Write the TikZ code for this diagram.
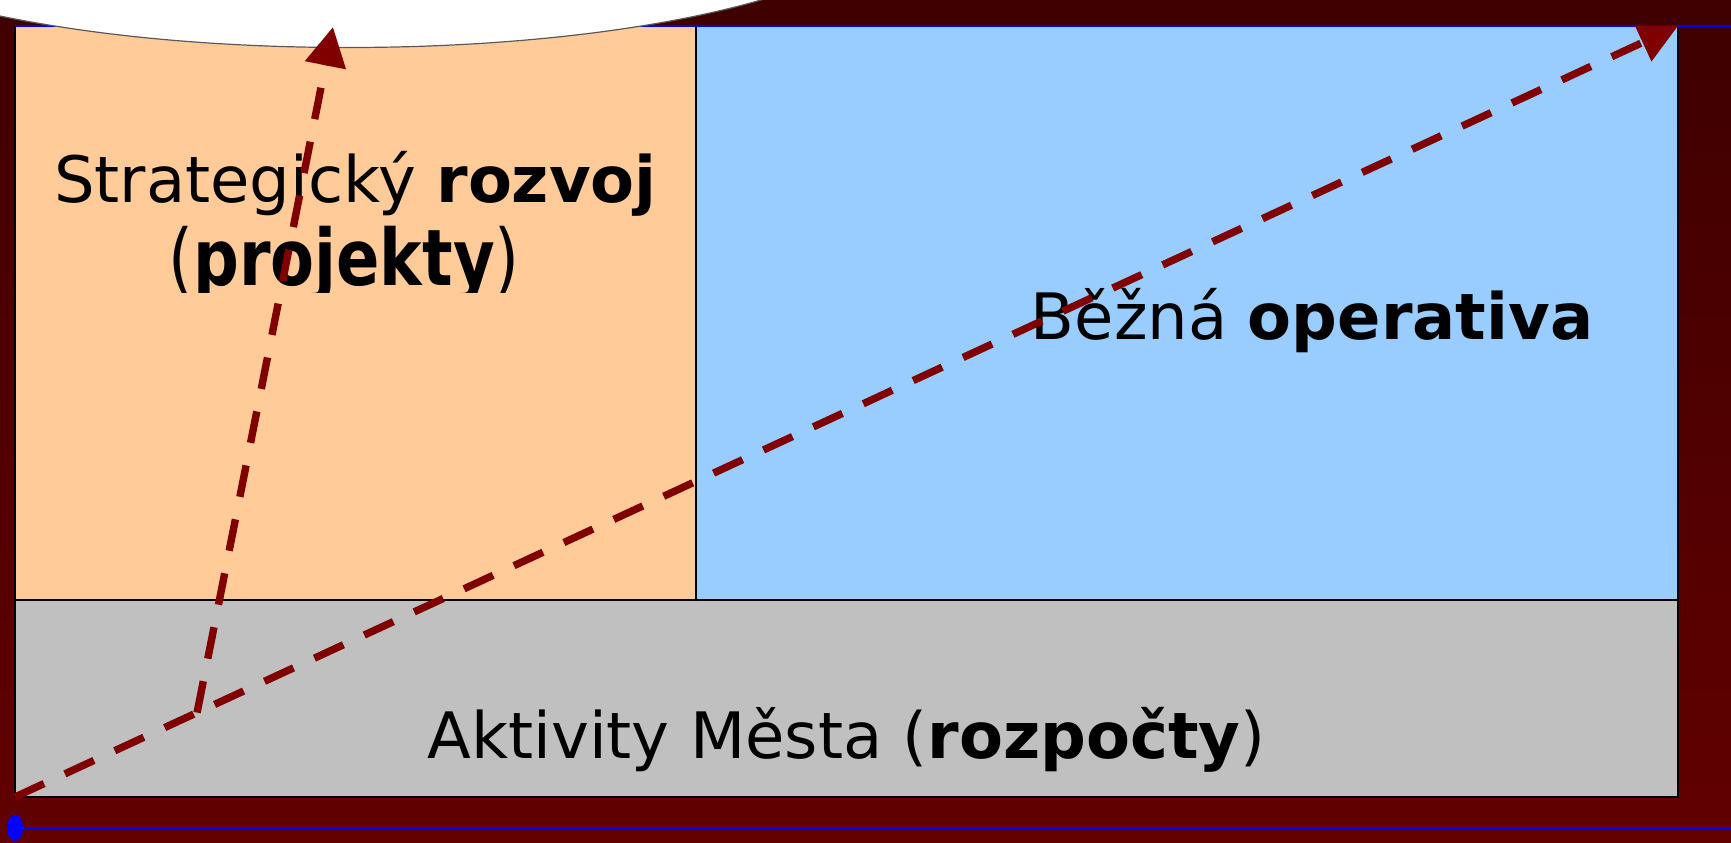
\documentclass[tikz,border=0pt]{standalone}
\usepackage{fontspec}
\setmainfont{DejaVu Sans}
\usetikzlibrary{calc,arrows.meta,shapes.geometric}
\definecolor{bgtop}{RGB}{62,0,0}
\definecolor{bgbot}{RGB}{98,0,0}
\definecolor{orangebox}{HTML}{FFCC99}
\definecolor{bluebox}{HTML}{99CCFF}
\definecolor{graybox}{HTML}{C0C0C0}
\definecolor{arrowred}{RGB}{128,0,0}
\tikzset{
  panel/.style={draw=black, line width=0.75pt, inner sep=0pt, outer sep=0pt, anchor=north west},
  label/.style={inner sep=0pt, outer sep=0pt, anchor=base, font=\fontsize{32}{42}\selectfont},
  flow/.style={draw=arrowred, line width=3.7pt, dash pattern=on 16pt off 11.5pt,
    -{Triangle[length=19.5pt,width=20pt]}},
  bluerule/.style={draw=blue, line width=1.1pt}
}
\begin{document}
\begin{tikzpicture}[x=0.5pt,y=-0.5pt]
\useasboundingbox (0,0) rectangle (1731,842);
\clip (0,0) rectangle (1731,842);
\shade[top color=bgtop, bottom color=bgbot] (0,0) rectangle (1731,842);
% panels
\node[panel, fill=orangebox, minimum width=340.5pt, minimum height=287pt] (strat) at (15,26) {};
\node[panel, fill=bluebox, minimum width=491pt, minimum height=287pt] (oper) at (696,26) {};
\node[panel, fill=graybox, line width=1pt, minimum width=831.5pt, minimum height=98.5pt] (akt) at (15,600) {};
% blue rules
\coordinate (rtop0) at (15,26);
\coordinate (rtop1) at (1731,26);
\draw[bluerule] (rtop0) -- (rtop1);
\node[fill=blue, ellipse, inner sep=0pt, minimum width=8pt, minimum height=13pt] (dot) at (15,828) {};
\coordinate (rbot1) at (1731,828);
\draw[bluerule] (dot.center) -- (rbot1);
% white ellipse at top
\node[draw=black!65, line width=0.6pt, fill=white, ellipse, inner sep=0pt,
  minimum width=547pt, minimum height=138pt] (cap) at (348,-90.5) {};
% texts
\node[label] (t1) at (355.5,202) {Strategický \textbf{rozvoj}};
\begin{scope}
\clip (15,26) rectangle (696,292);
\node[label] (t2) at (344,285) {\scalebox{1}[1.22]{(\textbf{projekty})}};
\end{scope}
\node[label] (t3) at (1312,339) {Běžná \textbf{operativa}};
\node[label] (t4) at (846.5,758) {Aktivity Města (\textbf{rozpočty})};
% arrows
\coordinate (kink) at ($(akt.south west)!0.1095!(oper.north east)$);
\coordinate (tip1) at (333,27);
\begin{scope}
\clip (0,26) rectangle (1731,842);
\draw[flow] (akt.south west) -- (oper.north east);
\end{scope}
\draw[flow] (kink) -- (tip1);
\end{tikzpicture}
\end{document}
